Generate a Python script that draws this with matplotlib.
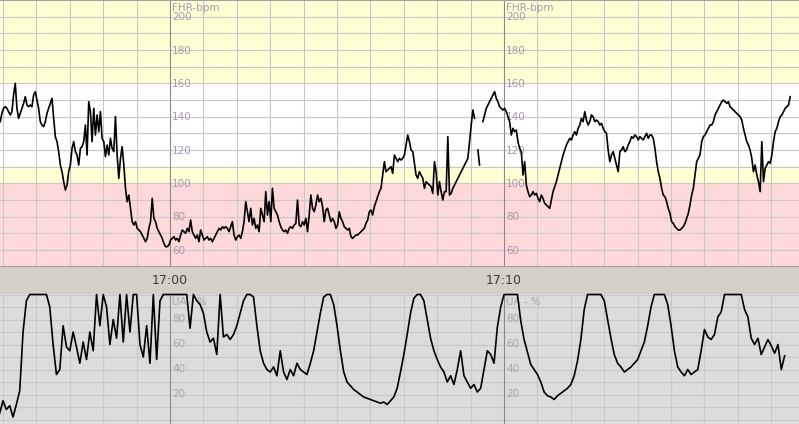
import numpy as np
import pandas as pd
import matplotlib.pyplot as plt

# FHR trace: one reading every 3 s starting 16:54:55 (nan = signal loss)
fhr_start = "16:54:55"
fhr_step_s = 3
fhr_bpm = [
    137, 142, 145, 146, 145, 143, 141, 143, 153, 160, 145, 139, 142, 145, 148, 152,
    147, 146, 147, 146, 153, 155, 150, 145, 137, 135, 134, 137, 142, 145, 148, 151,
    139, 128, 125, 119, 111, 107, 101, 96, 99, 107, 111, 121, 125, 119, 117, 111,
    121, 122, 125, 135, 117, 149, 143, 125, 145, 129, 141, 131, 143, 127, 125, 116,
    123, 117, 127, 121, 119, 140, 117, 103, 115, 122, 111, 97, 89, 93, 85, 77,
    75, 77, 73, 72, 71, 69, 67, 65, 67, 73, 77, 91, 79, 77, 73, 71,
    69, 67, 64, 62, 62, 63, 66, 67, 68, 66, 67, 65, 69, 72, 71, 70,
    73, 71, 78, 71, 69, 67, 69, 65, 72, 69, 66, 67, 68, 66, 67, 65,
    67, 69, 71, 73, 72, 74, 73, 74, 73, 71, 74, 77, 69, 66, 68, 69,
    67, 71, 77, 89, 83, 77, 85, 75, 79, 73, 75, 71, 85, 81, 77, 95,
    81, 89, 77, 97, 85, 83, 81, 77, 74, 72, 71, 72, 70, 73, 74, 73,
    75, 76, 90, 75, 74, 77, 75, 79, 71, 81, 93, 85, 83, 87, 93, 89,
    91, 86, 77, 84, 85, 81, 77, 79, 77, 73, 75, 83, 79, 77, 74, 73,
    72, 73, 68, 67, 68, 69, 69, 70, 71, 72, 73, 76, 78, 83, 84, 81,
    86, 89, 92, 95, 97, 105, 113, 107, 108, 109, 110, 106, 117, 115, 113, 115,
    114, 115, 117, 123, 129, 125, 120, 119, 112, 105, 103, 107, 105, 103, 97, 101,
    100, 99, 98, 94, 113, 107, 93, 101, 95, 90, 95, 95, 128, 93, 94, 97,
    99, 101, 103, 105, 107, 109, 111, 113, 115, 125, 135, 144, 139, np.nan, 120, 111,
    np.nan, 137, 141, 145, 147, 149, 151, 153, 155, 151, 149, 146, 145, 144, 145, 143,
    140, 137, 129, 133, 131, 132, 125, 121, 119, 105, 113, 99, 95, 92, 93, 95,
    93, 94, 91, 89, 93, 91, 88, 87, 86, 85, 90, 95, 98, 101, 105, 109,
    113, 117, 120, 123, 125, 127, 126, 129, 131, 129, 133, 135, 139, 137, 143, 138,
    135, 137, 141, 140, 137, 138, 137, 135, 136, 133, 131, 130, 120, 113, 117, 119,
    115, 111, 107, 119, 120, 122, 119, 120, 123, 125, 128, 127, 129, 128, 126, 128,
    127, 126, 128, 130, 127, 129, 129, 127, 121, 113, 107, 103, 97, 93, 92, 89,
    85, 82, 77, 76, 74, 73, 72, 72, 73, 74, 76, 79, 82, 87, 93, 97,
    105, 113, 115, 117, 125, 128, 129, 131, 133, 135, 135, 137, 141, 143, 145, 147,
    149, 150, 149, 148, 149, 146, 145, 144, 143, 142, 141, 140, 138, 133, 129, 125,
    123, 120, 115, 107, 111, 105, 101, 95, 125, 101, 109, 111, 113, 112, 117, 125,
    131, 133, 137, 140, 141, 143, 145, 146, 147, 152,
]

# uterine activity: one reading every 6 s starting 16:54:54
ua_start = "16:54:54"
ua_step_s = 6
ua_pct = [
    5, 15, 8, 11, 2, 12, 23, 70, 95, 100, 100, 100, 100, 100, 100, 90,
    60, 36, 40, 75, 58, 55, 70, 58, 45, 62, 48, 70, 55, 100, 75, 100,
    90, 60, 80, 65, 100, 62, 100, 70, 100, 100, 60, 50, 75, 45, 100, 48,
    95, 100, 100, 100, 100, 100, 100, 100, 100, 73, 100, 95, 92, 85, 70, 62,
    65, 52, 100, 66, 68, 64, 68, 75, 85, 95, 100, 100, 98, 75, 55, 45,
    40, 38, 42, 35, 55, 38, 32, 40, 35, 45, 40, 38, 36, 45, 55, 70,
    85, 98, 100, 100, 92, 75, 55, 38, 30, 27, 24, 22, 20, 18, 17, 16,
    15, 14, 13, 14, 12, 15, 18, 25, 38, 52, 68, 85, 97, 100, 100, 95,
    80, 65, 55, 48, 42, 38, 30, 35, 28, 40, 55, 35, 30, 25, 28, 22,
    25, 40, 55, 52, 45, 74, 90, 100, 100, 100, 100, 100, 79, 64, 54, 44,
    40, 36, 30, 22, 19, 18, 16, 19, 21, 23, 25, 28, 35, 47, 64, 88,
    100, 100, 100, 100, 100, 95, 80, 65, 52, 45, 42, 38, 40, 42, 45, 48,
    55, 62, 75, 90, 100, 100, 100, 100, 92, 75, 55, 42, 38, 35, 40, 36,
    38, 40, 55, 72, 66, 64, 68, 82, 86, 100, 100, 100, 100, 100, 100, 88,
    82, 65, 60, 65, 52, 58, 64, 59, 53, 60, 40, 51,
]

time_labels = ["17:00", "17:10"]
fhr_ticks = [200, 180, 160, 140, 120, 100, 80, 60]
ua_ticks = [80, 60, 40, 20]


def minutes_after_17(start, step_s, n):
    t0 = (pd.to_timedelta(start) - pd.to_timedelta("17:00:00")).total_seconds()
    return (t0 + step_s * np.arange(n)) / 60.0


fhr_t = minutes_after_17(fhr_start, fhr_step_s, len(fhr_bpm))
ua_t = minutes_after_17(ua_start, ua_step_s, len(ua_pct))
label_t = [minutes_after_17(s + ":00", 0, 1)[0] for s in time_labels]

xmin, xmax = -5.09, 18.83
grid_c = "#c8c8c8"
dark_c = "#8a8a8a"

fig = plt.figure(figsize=(7.99, 4.24), dpi=100)
ax1 = fig.add_axes([0, 0.3726, 1, 0.6274])
band = fig.add_axes([0, 0.3066, 1, 0.066])
ax2 = fig.add_axes([0, 0, 1, 0.3066])

# ---- FHR panel
ax1.set_xlim(xmin, xmax)
ax1.set_ylim(50.4, 210)
ax1.axhspan(160, 210, color="#ffffd4", zorder=0)
ax1.axhspan(110, 160, color="white", zorder=0)
ax1.axhspan(100, 110, color="#ffffd4", zorder=0)
ax1.axhspan(40, 100, color="#ffd9d9", zorder=0)
for v in range(60, 210, 10):
    ax1.axhline(v, color=grid_c, lw=0.8, zorder=1)
for m in range(-5, 19):
    ax1.axvline(m, color=dark_c if m in label_t else grid_c, lw=0.8, zorder=1)
ax1.plot(fhr_t, fhr_bpm, color="black", lw=1.2, zorder=3)
for lt in label_t:
    ax1.annotate("FHR-bpm", (lt, 210), xytext=(1.5, -2), textcoords="offset points",
                 ha="left", va="top", fontsize=7.5, color="#a898b0", zorder=2)
    for v in fhr_ticks:
        ax1.annotate(str(v), (lt, v), xytext=(1.5, -0.5), textcoords="offset points",
                     ha="left", va="center", fontsize=7.5, color="#a898b0", zorder=2)
ax1.set_xticks([])
ax1.set_yticks([])
for s in ax1.spines.values():
    s.set_visible(False)
ax1.spines["top"].set_visible(True)
ax1.spines["top"].set_color("#a0a0a0")

# ---- time band
band.set_xlim(xmin, xmax)
band.set_ylim(0, 1)
band.set_facecolor("#d4d0c8")
for lt, lab in zip(label_t, time_labels):
    band.text(lt, 0.48, lab, ha="center", va="center", fontsize=9, color="#3c3c3c")
band.set_xticks([])
band.set_yticks([])
for k, s in band.spines.items():
    s.set_visible(k in ("top", "bottom"))
    s.set_color("#a0a0a0")

# ---- UA panel
ax2.set_xlim(xmin, xmax)
ax2.set_ylim(-3.6, 100.4)
ax2.set_facecolor("#dcdcdc")
for v in range(0, 101, 10):
    ax2.axhline(v, color=grid_c, lw=0.8, zorder=1)
for m in range(-5, 19):
    ax2.axvline(m, color=dark_c if m in label_t else grid_c, lw=0.8, zorder=1)
ax2.plot(ua_t, ua_pct, color="black", lw=1.2, zorder=3, clip_on=False)
for lt in label_t:
    ax2.annotate("UA - %", (lt, 100), xytext=(1.5, -1.5), textcoords="offset points",
                 ha="left", va="top", fontsize=7.5, color="#a8a8a8", zorder=2)
    for v in ua_ticks:
        ax2.annotate(str(v), (lt, v), xytext=(1.5, 0.5), textcoords="offset points",
                     ha="left", va="center", fontsize=7.5, color="#a8a8a8", zorder=2)
ax2.set_xticks([])
ax2.set_yticks([])
for s in ax2.spines.values():
    s.set_visible(False)

fig.savefig("out.png", dpi=100)
